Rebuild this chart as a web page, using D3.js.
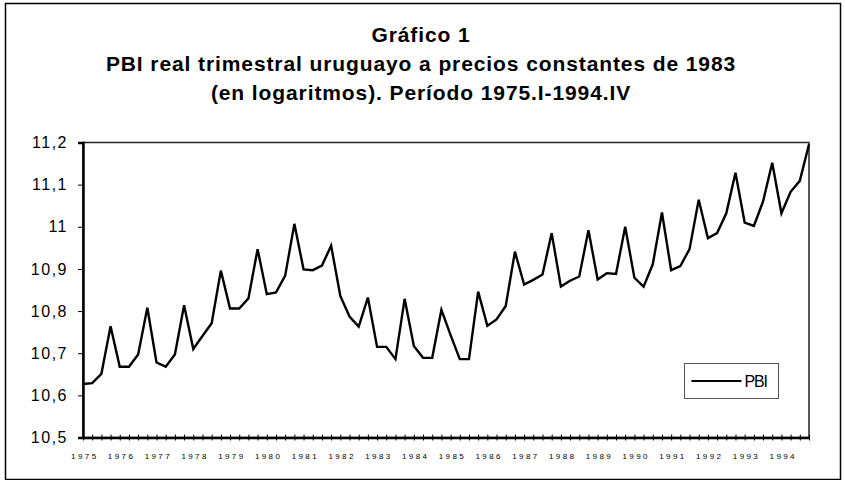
<!DOCTYPE html>
<html lang="es">
<head>
  <meta charset="UTF-8">
  <title>PBI trimestral</title>
  <script src="https://cdn.jsdelivr.net/npm/d3@7"></script>
  <style>
    body { margin: 0; background: #fff; }
    text { font-family: "Liberation Sans", Arial, sans-serif; fill: #000; }
  </style>
</head>
<body>
  <div id="main"></div>
  <script>
    // datos: log del PBI trimestral 1975.I - 1994.IV
    var years = d3.range(1975, 1995);
    var quarters = ["I", "II", "III", "IV"];
    var pbi = [
      10.627, 10.629, 10.651, 10.764,
      10.668, 10.668, 10.697, 10.808,
      10.678, 10.668, 10.697, 10.814,
      10.710, 10.741, 10.771, 10.896,
      10.806, 10.806, 10.830, 10.947,
      10.840, 10.844, 10.884, 11.007,
      10.899, 10.897, 10.908, 10.955,
      10.836, 10.787, 10.763, 10.832,
      10.715, 10.715, 10.686, 10.829,
      10.717, 10.689, 10.689, 10.803,
      10.743, 10.686, 10.686, 10.846,
      10.765, 10.780, 10.812, 10.941,
      10.863, 10.874, 10.887, 10.985,
      10.858, 10.872, 10.882, 10.992,
      10.875, 10.890, 10.888, 11.000,
      10.879, 10.858, 10.911, 11.034,
      10.897, 10.907, 10.947, 11.064,
      10.973, 10.985, 11.032, 11.128,
      11.010, 11.002, 11.060, 11.152,
      11.032, 11.083, 11.109, 11.196
    ];
    var yTicks = [10.5, 10.6, 10.7, 10.8, 10.9, 11, 11.1, 11.2];
    var titleLines = [
      "Gráfico 1",
      "PBI real trimestral uruguayo a precios constantes de 1983",
      "(en logaritmos). Período 1975.I-1994.IV"
    ];
    var seriesName = "PBI";

    var width = 845, height = 480;
    var plot = { left: 83, right: 809, top: 142.5, bottom: 437.5 };

    var svg = d3.select("#main").append("svg")
      .attr("width", width)
      .attr("height", height);

    // marco exterior
    svg.append("rect")
      .attr("x", 5.5).attr("y", 3.5)
      .attr("width", 835).attr("height", 476)
      .attr("fill", "none")
      .attr("stroke", "#000")
      .attr("stroke-width", 1.5);

    // titulo
    svg.selectAll(".title").data(titleLines).enter().append("text")
      .attr("class", "title")
      .attr("x", 421)
      .attr("y", function (d, i) { return 42 + i * 29; })
      .attr("text-anchor", "middle")
      .style("font-size", "21px")
      .style("font-weight", "bold")
      .style("letter-spacing", "0.9px")
      .text(function (d) { return d; });

    var x = d3.scaleLinear().domain([0, pbi.length - 1]).range([plot.left, plot.right]);
    var y = d3.scaleLinear().domain([10.5, 11.2]).range([plot.bottom, plot.top]);

    // borde del area de grafico
    svg.append("rect")
      .attr("x", plot.left).attr("y", plot.top)
      .attr("width", plot.right - plot.left)
      .attr("height", plot.bottom - plot.top)
      .attr("fill", "none")
      .attr("stroke", "#222")
      .attr("stroke-width", 1.5);

    // eje Y
    var yAxis = svg.append("g")
      .attr("transform", "translate(" + plot.left + ",0)")
      .call(d3.axisLeft(y).tickValues(yTicks).tickSize(5).tickPadding(10)
        .tickFormat(function (d) { return d3.format(".1f")(d).replace(".", ",").replace(",0", ""); }));
    yAxis.select(".domain").attr("stroke", "#000").attr("stroke-width", 2.5);
    yAxis.selectAll("text")
      .style("font-family", "'Liberation Sans', Arial, sans-serif")
      .style("font-size", "16px")
      .style("letter-spacing", "1.5px");

    // eje X: una marca por trimestre, etiqueta por año
    var xAxis = svg.append("g")
      .attr("transform", "translate(0," + plot.bottom + ")")
      .call(d3.axisBottom(x).tickValues(d3.range(pbi.length)).tickSizeInner(3).tickSizeOuter(0)
        .tickFormat(function (d) { return d % 4 === 0 ? years[d / 4] : ""; }));
    xAxis.select(".domain").attr("stroke", "#000").attr("stroke-width", 2.5);
    xAxis.selectAll(".tick line").attr("y1", -3).attr("stroke-width", 1);
    xAxis.selectAll("text")
      .attr("y", 16)
      .attr("dx", "1.3px")
      .style("font-family", "'Liberation Sans', Arial, sans-serif")
      .style("font-size", "8px")
      .style("letter-spacing", "2.4px");

    // serie
    var line = d3.line()
      .x(function (d, i) { return x(i); })
      .y(function (d) { return y(d); });

    svg.append("path")
      .datum(pbi)
      .attr("d", line)
      .attr("fill", "none")
      .attr("stroke", "#000")
      .attr("stroke-width", 2.4)
      .attr("stroke-linejoin", "miter");

    // leyenda
    var lg = svg.append("g").attr("transform", "translate(684.5,363.5)");
    lg.append("rect")
      .attr("width", 94).attr("height", 35)
      .attr("fill", "#fff")
      .attr("stroke", "#555")
      .attr("stroke-width", 1);
    lg.append("line")
      .attr("x1", 7).attr("x2", 57)
      .attr("y1", 17.5).attr("y2", 17.5)
      .attr("stroke", "#000").attr("stroke-width", 2.2);
    lg.append("text")
      .attr("x", 60).attr("y", 23)
      .style("font-size", "16px")
      .style("letter-spacing", "-1.2px")
      .text(seriesName);
  </script>
</body>
</html>
